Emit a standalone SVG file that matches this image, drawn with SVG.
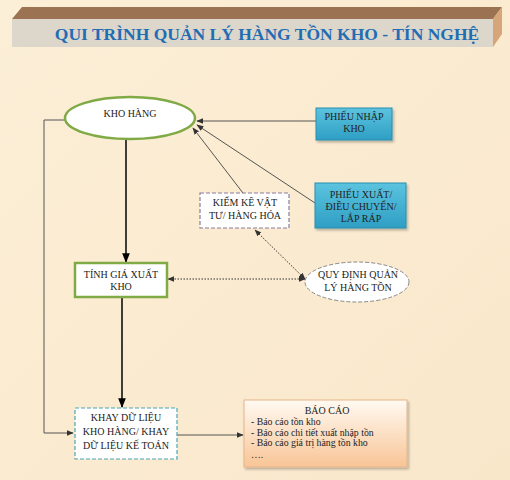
<svg xmlns="http://www.w3.org/2000/svg" width="510" height="480" viewBox="0 0 510 480">
<defs>
<linearGradient id="bg" x1="0" y1="0" x2="1" y2="1">
<stop offset="0" stop-color="#fcefd7"/><stop offset="1" stop-color="#f9e7ca"/>
</linearGradient>
<linearGradient id="teal" x1="0" y1="0" x2="0" y2="1">
<stop offset="0" stop-color="#5cc3df"/><stop offset="1" stop-color="#2e9fc4"/>
</linearGradient>
<linearGradient id="peach" x1="0" y1="0" x2="0" y2="1">
<stop offset="0" stop-color="#fffaf2"/><stop offset="1" stop-color="#f8c596"/>
</linearGradient>
<marker id="ah" viewBox="0 0 10 10" refX="9" refY="5" markerWidth="7" markerHeight="7" orient="auto-start-reverse">
<path d="M0,1 L10,5 L0,9 z" fill="#333"/>
</marker>
<marker id="ahb" viewBox="0 0 10 10" refX="9" refY="5" markerWidth="6" markerHeight="6" orient="auto-start-reverse">
<path d="M0,1 L10,5 L0,9 z" fill="#000"/>
</marker>
<filter id="sh" x="-10%" y="-10%" width="130%" height="140%">
<feDropShadow dx="1.5" dy="2" stdDeviation="1.2" flood-color="#000" flood-opacity="0.25"/>
</filter>
</defs>
<style>
text{font-family:"Liberation Serif","Times New Roman",serif;fill:#222;font-size:10px}
.c{text-anchor:middle}
.t{font-size:17.5px;font-weight:bold;fill:#1f6db3;text-anchor:middle}
.l{stroke:#555;stroke-width:1;fill:none}
.d{stroke:#333;stroke-width:1;fill:none;stroke-dasharray:1.5,1.5}
.k{stroke:#111;stroke-width:1.6;fill:none}
.r{font-size:9.8px}
</style>
<rect width="510" height="480" fill="url(#bg)"/>
<g id="title">
<polygon points="12,19 22,7 502,7 493,19" fill="#9b7352"/>
<polygon points="493,19 502,7 502,34 493,47" fill="#d7a57a"/>
<rect x="12" y="19" width="481" height="28" fill="#dcd6cb"/>
<text class="t" x="267" y="39.5">QUI TRÌNH QUẢN LÝ HÀNG TỒN KHO - TÍN NGHỆ</text>
</g>
<g id="connectors">
<path class="l" d="M65,120 H44 V433 H73" marker-end="url(#ah)"/>
<line class="k" x1="126" y1="139" x2="126" y2="262" marker-end="url(#ahb)"/>
<line class="k" x1="122" y1="297" x2="122" y2="407" marker-end="url(#ahb)"/>
<line class="l" x1="177" y1="435" x2="243" y2="435" marker-end="url(#ah)"/>
<line class="l" x1="316" y1="121" x2="197" y2="121" marker-end="url(#ah)"/>
<line class="l" x1="315" y1="203" x2="197" y2="125" marker-end="url(#ah)"/>
<line class="l" x1="243" y1="193" x2="193" y2="128" marker-end="url(#ah)"/>
<line class="d" x1="305" y1="279" x2="168" y2="279" marker-start="url(#ah)" marker-end="url(#ah)"/>
<line class="d" x1="305" y1="279" x2="255" y2="230" marker-start="url(#ah)" marker-end="url(#ah)"/>
</g>
<g id="kho-hang">
<ellipse cx="130" cy="118" rx="65" ry="21" fill="#fff" stroke="#80aa45" stroke-width="2.5"/>
<text class="c" x="130" y="117">KHO HÀNG</text>
</g>
<g id="phieu-nhap">
<rect x="316" y="108" width="76" height="32" fill="url(#teal)" stroke="#2a8db0" stroke-width="1" filter="url(#sh)"/>
<text class="c" x="354" y="120">PHIẾU NHẬP</text>
<text class="c" x="354" y="132">KHO</text>
</g>
<g id="phieu-xuat">
<rect x="315" y="183" width="91" height="45" fill="url(#teal)" stroke="#2a8db0" stroke-width="1" filter="url(#sh)"/>
<text class="c" x="361" y="198">PHIẾU XUẤT/</text>
<text class="c" x="361" y="210">ĐIỀU CHUYỂN/</text>
<text class="c" x="361" y="222">LẮP RÁP</text>
</g>
<g id="kiem-ke">
<rect x="200" y="193" width="89" height="35" fill="#fff" stroke="#8a7d9c" stroke-width="1.2" stroke-dasharray="4,2"/>
<text class="c" x="245" y="206">KIỂM KÊ VẬT</text>
<text class="c" x="245" y="219">TƯ/ HÀNG HÓA</text>
</g>
<g id="quy-dinh">
<ellipse cx="357" cy="282" rx="52" ry="20" fill="#fff" stroke="#888" stroke-width="1" stroke-dasharray="4,2"/>
<text class="c" x="358" y="278">QUY ĐỊNH QUẢN</text>
<text class="c" x="358" y="291">LÝ HÀNG TỒN</text>
</g>
<g id="tinh-gia">
<rect x="75" y="263" width="92" height="34" fill="#fff" stroke="#80aa45" stroke-width="2.5"/>
<text class="c" x="121" y="278">TÍNH GIÁ XUẤT</text>
<text class="c" x="121" y="290">KHO</text>
</g>
<g id="khay">
<rect x="75" y="408" width="102" height="51" fill="#fff" stroke="#4aa6b8" stroke-width="1.2" stroke-dasharray="4,2"/>
<text class="c" x="126" y="421">KHAY DỮ LIỆU</text>
<text class="c" x="126" y="435">KHO HÀNG/ KHAY</text>
<text class="c" x="126" y="449">DỮ LIỆU KẾ TOÁN</text>
</g>
<g id="bao-cao">
<rect x="244" y="400" width="163" height="67" fill="url(#peach)" stroke="#e5b48a" stroke-width="1" filter="url(#sh)"/>
<text class="c" x="327" y="414">BÁO CÁO</text>
<text class="r" x="251" y="425">- Báo cáo tồn kho</text>
<text class="r" x="251" y="436">- Báo cáo chi tiết xuất nhập tồn</text>
<text class="r" x="251" y="446">- Báo cáo giá trị hàng tồn kho</text>
<text class="r" x="251" y="458">….</text>
</g>
</svg>
